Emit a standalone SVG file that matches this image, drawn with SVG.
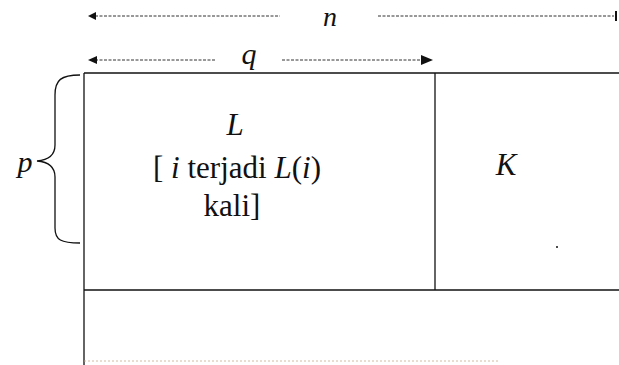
<svg xmlns="http://www.w3.org/2000/svg" width="619" height="365" viewBox="0 0 619 365">
<style>
.i{font-style:italic}
.ln{stroke:#111;stroke-width:1.3;fill:none}
.dl{stroke:#333;stroke-width:1;stroke-dasharray:3 1.5;fill:none}
</style>
<rect width="619" height="365" fill="#fff"/>
<g id="connectors">
<line class="dl" x1="95" y1="16" x2="280" y2="16"/>
<line class="dl" x1="378" y1="16" x2="614" y2="16"/>
<path d="M88,16 L96,12 L96,20 Z" fill="#111"/>
<line x1="616" y1="11" x2="616" y2="21" stroke="#111" stroke-width="2"/>
<line class="dl" x1="95" y1="60" x2="215" y2="60"/>
<line class="dl" x1="282" y1="60" x2="422" y2="60"/>
<path d="M88,60 L97,56 L97,64 Z" fill="#111"/>
<path d="M433,60 L421,55 L421,65 Z" fill="#111"/>
<path class="ln" d="M80,75 C61,75 55,80 55,95 L55,145 C55,155 49,160 37,161 C49,162 55,167 55,177 L55,228 C55,240 61,243 80,243"/>
</g>
<g id="grid">
<line class="ln" x1="84" y1="73" x2="619" y2="73"/>
<line class="ln" x1="84" y1="73" x2="84" y2="365"/>
<line class="ln" x1="435" y1="73" x2="435" y2="290"/>
<line class="ln" x1="84" y1="290" x2="619" y2="290"/>
<line x1="84" y1="361" x2="500" y2="361" stroke="#c9a98a" stroke-width="0.8" stroke-dasharray="2 2"/>
<circle cx="557" cy="247" r="1" fill="#111"/>
</g>
<g id="labels">
<text font-family="Liberation Serif" font-style="italic" font-size="28" fill="#111" x="330" y="26" text-anchor="middle">n</text>
<text font-family="Liberation Serif" font-style="italic" font-size="30" fill="#111" x="249" y="64" text-anchor="middle">q</text>
<text font-family="Liberation Serif" font-style="italic" font-size="30" fill="#111" x="25" y="172" text-anchor="middle">p</text>
</g>
<g id="nodeL">
<text font-family="Liberation Serif" font-style="italic" font-size="31" fill="#111" x="235" y="135" text-anchor="middle">L</text>
<text font-family="Liberation Serif" font-size="31" fill="#111" x="237" y="178" text-anchor="middle">[ <tspan font-style="italic">i</tspan> terjadi <tspan font-style="italic">L</tspan>(<tspan font-style="italic">i</tspan>)</text>
<text font-family="Liberation Serif" font-size="31" fill="#111" x="232" y="216" text-anchor="middle">kali]</text>
</g>
<g id="nodeK">
<text font-family="Liberation Serif" font-style="italic" font-size="31" fill="#111" x="506" y="175" text-anchor="middle">K</text>
</g>
</svg>
